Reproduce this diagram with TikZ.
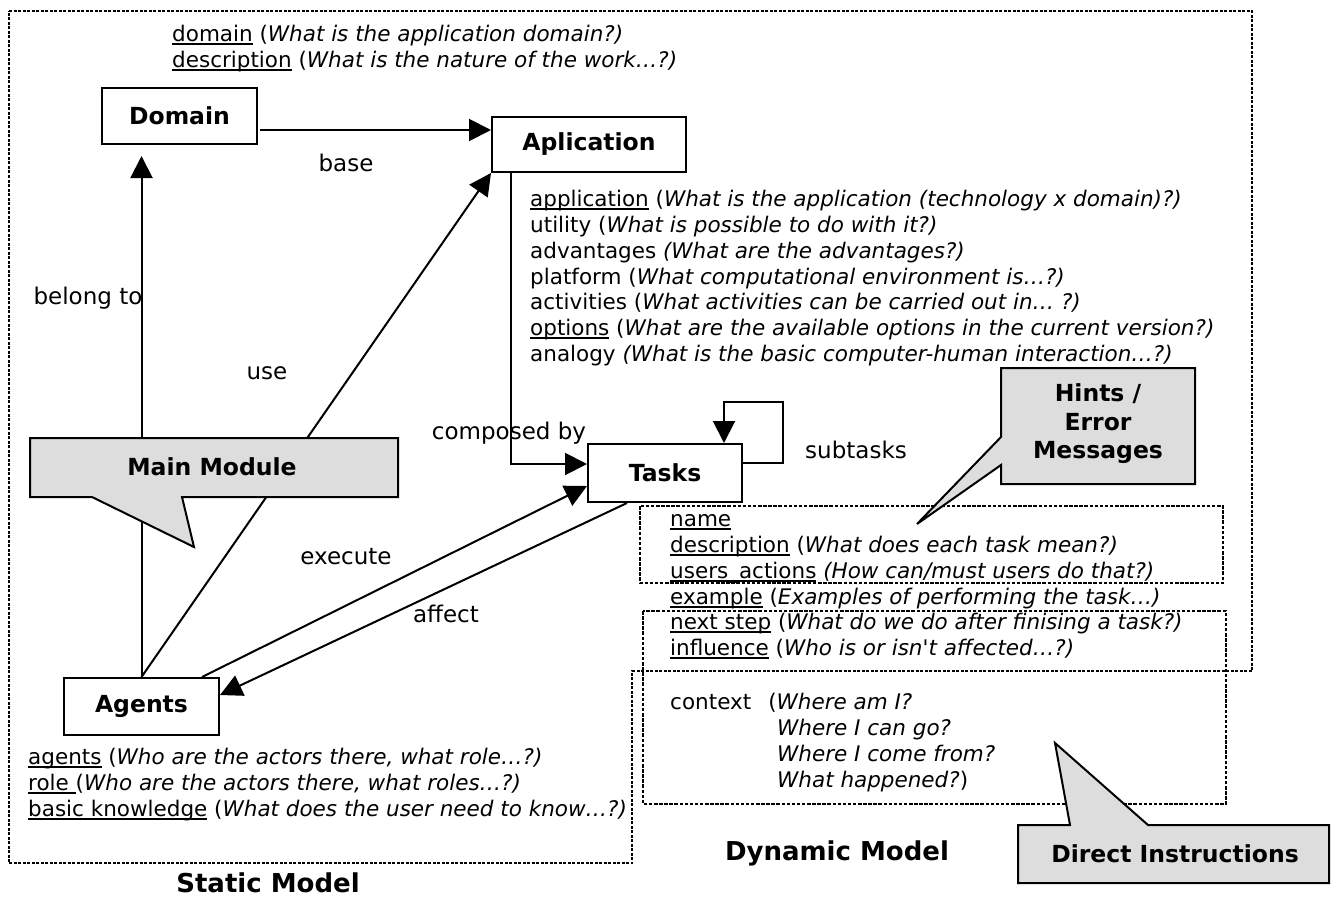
\documentclass[tikz,border=0pt]{standalone}
\usepackage{fontspec}
\setmainfont{DejaVu Sans}
\usetikzlibrary{arrows.meta}
\definecolor{calloutgray}{RGB}{221,221,221}
\newcommand{\undl}[1]{\setbox0=\hbox{#1}\rlap{\rule[-3.4pt]{\wd0}{2pt}}\box0\relax}

\begin{document}
\begin{tikzpicture}[x=1pt, y=-1pt]

    % Define styles
    \tikzstyle{entity} = [draw, line width=2pt, minimum width=155pt, minimum height=56pt, inner sep=0pt, font=\bfseries\fontsize{23.5}{28}\selectfont]
    \tikzstyle{relation} = [line width=2pt, -{Triangle[length=22pt, width=22pt]}]
    \tikzstyle{rellabel} = [inner sep=0pt, font=\fontsize{23}{27}\selectfont]
    \tikzstyle{attributes} = [anchor=north west, align=left, inner sep=0pt, font=\fontsize{21.5}{25.8}\selectfont]
    \tikzstyle{modelregion} = [line width=2.2pt, dash pattern=on 3pt off 1.5pt]
    \tikzstyle{groupbox} = [line width=2.8pt, dash pattern=on 3.5pt off 1.6pt]
    \tikzstyle{callout} = [draw, line width=2pt, fill=calloutgray, line join=miter]
    \tikzstyle{callouttext} = [align=center, inner sep=0pt, font=\bfseries\fontsize{23.5}{28.5}\selectfont]
    \tikzstyle{modeltitle} = [inner sep=0pt, font=\bfseries\fontsize{26}{30}\selectfont]

    \useasboundingbox (0,0) rectangle (1332,897);

    % Define key points
    \coordinate (domainpos) at (179.5,116);
    \coordinate (apppos) at (589,144.5);
    \coordinate (taskspos) at (665,473);
    \coordinate (agentspos) at (141.5,706.5);

    % Draw model regions
    \draw[modelregion] (9,11) -- (1252,11) -- (1252,671) -- (632,671) -- (632,863) -- (9,863) -- cycle;
    \draw[groupbox] (640,506) rectangle (1223,583);
    \draw[groupbox] (643,611) rectangle (1226,804);

    % Draw entities
    \node[entity] (domain) at (domainpos) {Domain};
    \node[entity, minimum width=194pt, minimum height=55pt] (aplication) at (apppos) {Aplication};
    \node[entity, minimum width=154pt, minimum height=58pt] (tasks) at (taskspos) {Tasks};
    \node[entity, minimum height=57pt] (agents) at (agentspos) {Agents};

    % Relations between entities
    \coordinate (basestart) at ([yshift=-14pt]domain.east);
    \draw[relation, shorten <=2pt] (basestart) -- (basestart -| aplication.west);
    \draw[relation, shorten >=11pt] (agents.north) -- (agents.north |- domain.south);
    \draw[relation] (agents.north) -- (aplication.south west);
    \draw[relation] ([xshift=20pt]aplication.south west) |- ([yshift=9pt]tasks.west);
    \draw[relation] ([yshift=10pt]tasks.east) -- ++(40,0) -- ++(0,-61) -| ([xshift=59pt]tasks.north);
    \draw[relation] ([xshift=-18pt]agents.north east) -- ([yshift=-13pt]tasks.west);
    \draw[relation] ([xshift=40pt]tasks.south west) -- ([yshift=11.5pt]agents.east);

    % Relation labels
    \node[rellabel] (baselabel) at (346,163) {base};
    \node[rellabel] (belonglabel) at (88,298) {belong to};
    \node[rellabel] (uselabel) at (267,373) {use};
    \node[rellabel] (composedlabel) at (509,433) {composed by};
    \node[rellabel] (subtaskslabel) at (856,450) {subtasks};
    \node[rellabel] (executelabel) at (346,557) {execute};
    \node[rellabel] (affectlabel) at (446,614) {affect};

    % Callouts
    \draw[callout] (30,438) -- (398,438) -- (398,497) -- (182,497) -- (194,547) -- (92,497) -- (30,497) -- cycle;
    \draw[callout] (1001,368) -- (1195,368) -- (1195,484) -- (1001,484) -- (1001,465) -- (917,524) -- (1001,437) -- cycle;
    \draw[callout] (1018,825) -- (1070,825) -- (1055,743) -- (1148,825) -- (1329,825) -- (1329,883) -- (1018,883) -- cycle;
    \node[callouttext] (mainmodule) at (212,467) {Main Module};
    \node[callouttext] (hints) at (1098,424) {Hints /\\Error\\Messages};
    \node[callouttext] (directinstr) at (1175,854) {Direct Instructions};

    % Attributes
    \node[attributes] (domaininfo) at (172,23.5) {\strut\undl{domain} (\textit{What is the application domain?)}\\
        \undl{description} (\textit{What is the nature of the work…?)}};
    \node[attributes] (appinfo) at (530,188.5) {\strut\undl{application} (\textit{What is the application (technology x domain)?)}\\
        utility (\textit{What is possible to do with it?)}\\
        advantages \textit{(What are the advantages?)}\\
        platform (\textit{What computational environment is…?)}\\
        activities (\textit{What activities can be carried out in… ?)}\\
        \undl{options} (\textit{What are the available options in the current version?)}\\
        analogy \textit{(What is the basic computer-human interaction…?)}};
    \node[attributes] (taskinfo) at (670,508.5) {\strut\undl{name}\\
        \undl{description} (\textit{What does each task mean?)}\\
        \undl{users\_actions} \textit{(How can/must users do that?)}\\
        \undl{example} (\textit{Examples of performing the task…)}\\
        \undl{next step} (\textit{What do we do after finising a task?)}\\
        \undl{influence} (\textit{Who is or isn\textquotesingle t affected…?)}};
    \node[attributes] (contextinfo) at (670,691.5) {\strut context\hspace{17pt}(\textit{Where am I?}\\
        \hspace*{107pt}\textit{Where I can go?}\\
        \hspace*{107pt}\textit{Where I come from?}\\
        \hspace*{107pt}\textit{What happened?})};
    \node[attributes] (agentinfo) at (28,746.5) {\strut\undl{agents} (\textit{Who are the actors there, what role…?)}\\
        \undl{role\ }(\textit{Who are the actors there, what roles…?)}\\
        \undl{basic knowledge} (\textit{What does the user need to know…?)}};

    % Model titles
    \node[modeltitle] (staticmodel) at (268,883) {Static Model};
    \node[modeltitle] (dynamicmodel) at (837,853) {Dynamic Model};

\end{tikzpicture}
\end{document}
